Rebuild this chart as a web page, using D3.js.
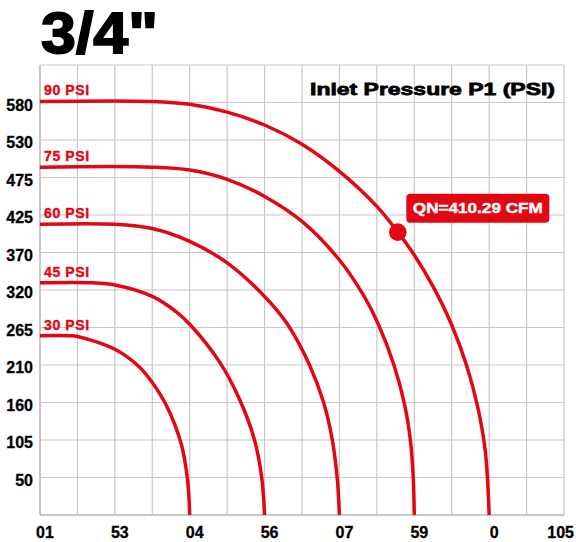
<!DOCTYPE html>
<meta charset="utf-8">
<style>
body { margin: 0; background: #fff; }
text { font-family: "Liberation Sans", Arial, sans-serif; font-weight: bold; }
</style>
<body>
<script src="https://cdn.jsdelivr.net/npm/d3@7"></script>
<script>

var w = 576,
    h = 542;

// axis labels as printed on the chart
var xLabels = ["01", "53", "04", "56", "07", "59", "0", "105"];
var yLabels = ["50", "105", "160", "210", "265", "320", "370", "425", "475", "530", "580"];

// curves (x in grid units x10, y in CFM-ish units)
var psi90 = [[0, 579], [30, 579], [40, 575], [50, 564], [60, 546], [70, 519], [80, 481], [90, 432],
             [95.6, 396], [100, 364], [105, 320], [110, 266], [114, 209], [117, 150], [119, 88], [120, 0]];
var psi75 = [[0, 487], [30, 487], [40, 483], [50, 470], [60, 446], [70, 411], [80, 357], [86.5, 307],
             [90.4, 267], [94.5, 211], [97.4, 155], [99, 103], [99.7, 54], [100, 0]];
var psi60 = [[0, 407], [20, 407], [30, 401], [40, 383], [50, 353], [60, 306], [66, 268],
             [72, 210], [75.8, 157], [78.1, 105], [79.4, 52], [80, 0]];
var psi45 = [[0, 325], [14, 325], [20, 322], [30, 306], [36.5, 284], [40, 267], [48, 214],
             [53.3, 162], [57.2, 107], [59.2, 54], [60, 0]];
var psi30 = [[0, 251], [8, 251], [10, 250], [20, 232], [26.4, 208], [29.8, 187], [33.8, 153],
             [37.7, 100], [39.4, 50], [40, 0]];

var curves = [
  {name: "90 PSI", pts: psi90},
  {name: "75 PSI", pts: psi75},
  {name: "60 PSI", pts: psi60},
  {name: "45 PSI", pts: psi45},
  {name: "30 PSI", pts: psi30}
];

var marker = {x: 95.6, y: 396, label: "QN=410.29 CFM"};

var red = "#e30613";

var svg = d3.select("body").append("svg")
    .attr("width", w)
    .attr("height", h);

var x = d3.scaleLinear().domain([0, 140]).range([40, 564]),
    y = d3.scaleLinear().domain([0, 630]).range([515, 65]);

// grid
var grid = svg.append("g");
grid.selectAll(".gx")
    .data(d3.range(0, 141, 10))
  .enter().append("line")
    .attr("x1", d => x(d)).attr("x2", d => x(d))
    .attr("y1", y(0)).attr("y2", y(630))
    .attr("stroke", "#c8c8c8")
    .attr("stroke-width", (d, i) => i == 0 ? 2 : 1.2);
grid.selectAll(".gy")
    .data(d3.range(0, 13))
  .enter().append("line")
    .attr("x1", x(0)).attr("x2", x(140))
    .attr("y1", d => y(d * 52.5)).attr("y2", d => y(d * 52.5))
    .attr("stroke", "#c8c8c8")
    .attr("stroke-width", (d, i) => i == 0 ? 2 : 1.2);

// tick labels
svg.selectAll(".ylab")
    .data(yLabels)
  .enter().append("text")
    .attr("x", 33)
    .attr("y", (d, i) => y((i + 1) * 52.5) + 8)
    .attr("text-anchor", "end")
    .attr("stroke", "#000")
    .attr("stroke-width", 0.3)
    .style("font-size", "16px")
    .text(d => d);

svg.selectAll(".xlab")
    .data(xLabels)
  .enter().append("text")
    .attr("x", (d, i) => i == xLabels.length - 1 ? 574 : x(i * 20) + 5)
    .attr("y", 538)
    .attr("text-anchor", (d, i) => i == xLabels.length - 1 ? "end" : "middle")
    .attr("stroke", "#000")
    .attr("stroke-width", 0.3)
    .style("font-size", "16px")
    .text(d => d);

// curves
var line = d3.line()
    .x(d => x(d[0]))
    .y(d => y(d[1]))
    .curve(d3.curveCatmullRom.alpha(0.5));

svg.selectAll(".curve")
    .data(curves)
  .enter().append("path")
    .attr("d", d => line(d.pts))
    .attr("fill", "none")
    .attr("stroke", red)
    .attr("stroke-width", 3.5);

svg.selectAll(".clab")
    .data(curves)
  .enter().append("text")
    .attr("x", 44)
    .attr("y", d => y(d.pts[0][1]) - 6)
    .attr("fill", red)
    .attr("stroke", red)
    .attr("stroke-width", 0.4)
    .style("font-size", "14px")
    .style("letter-spacing", "0.6px")
    .text(d => d.name);

// marker + callout
svg.append("circle")
    .attr("cx", x(marker.x))
    .attr("cy", y(marker.y))
    .attr("r", 8.8)
    .attr("fill", red);

var cx = x(marker.x) + 80,
    cy = y(marker.y) - 24;
svg.append("rect")
    .attr("x", cx - 71.5)
    .attr("y", cy - 14.5)
    .attr("width", 143)
    .attr("height", 29)
    .attr("rx", 4)
    .attr("fill", red);
svg.append("text")
    .attr("x", cx - 65)
    .attr("y", cy + 5)
    .attr("fill", "#fff")
    .attr("stroke", "#fff")
    .attr("stroke-width", 0.4)
    .attr("textLength", 130)
    .attr("lengthAdjust", "spacingAndGlyphs")
    .style("font-size", "14.5px")
    .text(marker.label);

// titles
svg.append("text")
    .attr("x", 41)
    .attr("y", 53)
    .attr("stroke", "#000")
    .attr("stroke-width", 1.8)
    .attr("textLength", 117)
    .attr("lengthAdjust", "spacingAndGlyphs")
    .style("font-size", "58px")
    .text("3/4\"");

svg.append("text")
    .attr("x", 310)
    .attr("y", 94.5)
    .attr("stroke", "#000")
    .attr("stroke-width", 0.8)
    .attr("textLength", 245)
    .attr("lengthAdjust", "spacingAndGlyphs")
    .style("font-size", "17px")
    .text("Inlet Pressure P1 (PSI)");

</script>
